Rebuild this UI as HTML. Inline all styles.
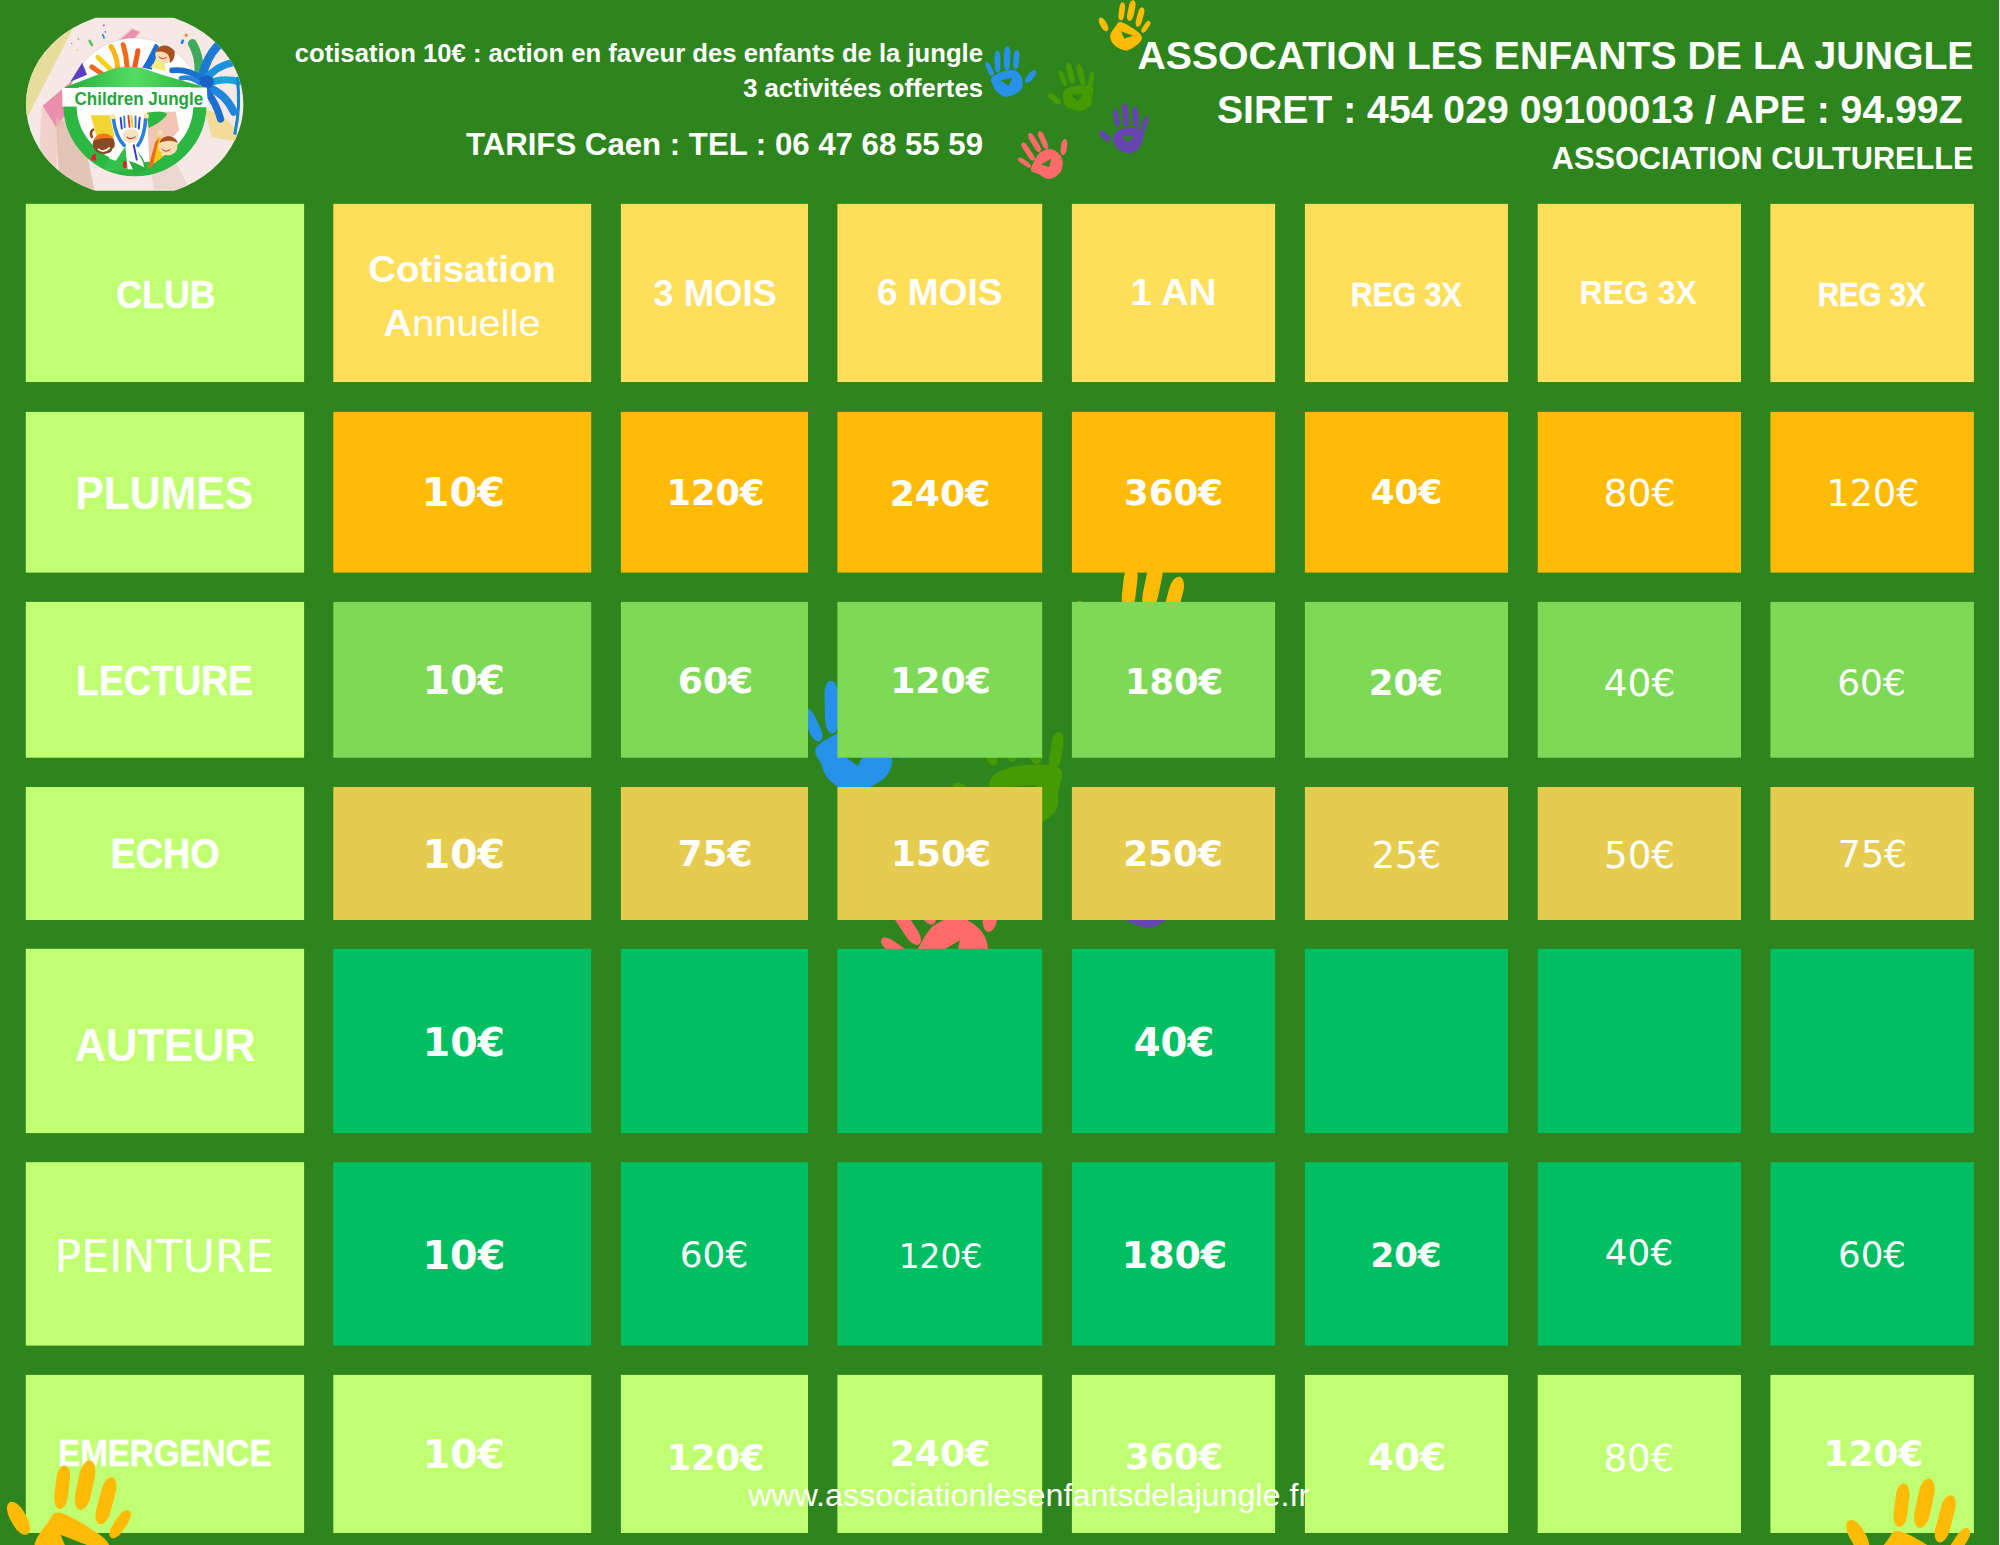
<!DOCTYPE html>
<html lang="fr"><head><meta charset="utf-8"><title>Tarifs Caen - Association Les Enfants de la Jungle</title>
<style>
html,body{margin:0;padding:0}
body{width:2000px;height:1545px;background:#2e851d;position:relative;overflow:hidden;font-family:"Liberation Sans",sans-serif;color:#fff}
.c{position:absolute;display:flex;align-items:center;justify-content:center;text-align:center;white-space:nowrap}
.c span{position:relative;display:block}
.h{position:absolute;white-space:nowrap;font-weight:700;text-align:right;right:27px}
svg{position:absolute;overflow:visible}
</style></head><body>
<svg width="0" height="0" style="left:0;top:0"><defs><g id="cluster"><g id="hand-yellow" fill="#ffbb05" stroke="#ffbb05" stroke-linecap="round"><rect x="1118.9" y="2.3" width="5.7" height="18.3" rx="2.8" ry="5.4" stroke="none" transform="rotate(6.7 1121.7 11.4)"/><rect x="1128.0" y="0.1" width="6.5" height="21.0" rx="3.2" ry="6.2" stroke="none" transform="rotate(11.7 1131.3 10.7)"/><rect x="1137.0" y="6.9" width="6.0" height="20.3" rx="3.0" ry="5.7" stroke="none" transform="rotate(15.0 1140.0 17.0)"/><rect x="1143.5" y="20.0" width="4.9" height="13.6" rx="2.4" ry="4.6" stroke="none" transform="rotate(33.7 1145.9 26.7)"/><rect x="1100.3" y="16.8" width="6.5" height="15.2" rx="3.2" ry="6.2" stroke="none" transform="rotate(-29.0 1103.5 24.4)"/><path stroke="none" fill-rule="evenodd" d="M1115.8 26.1C1117.6 23.8 1117.8 21.5 1121.0 22.1C1124.3 22.8 1132.0 27.5 1135.4 29.9C1138.9 32.2 1141.0 34.1 1141.6 36.3C1142.2 38.5 1141.6 40.7 1139.1 43.1C1136.7 45.4 1130.9 50.1 1126.8 50.4C1122.7 50.8 1117.3 47.7 1114.5 45.3C1111.8 42.8 1110.0 39.1 1110.2 35.9C1110.4 32.7 1114.0 28.4 1115.8 26.1ZM1121.0 31.2L1132.9 35.8L1124.3 38.8Z"/></g><g id="hand-blue" fill="#2692ea" stroke="#2692ea" stroke-linecap="round"><rect x="987.1" y="61.5" width="4.9" height="15.0" rx="2.4" ry="4.6" stroke="none" transform="rotate(-25.0 989.5 68.9)"/><rect x="994.7" y="50.6" width="5.7" height="21.9" rx="2.8" ry="5.4" stroke="none" transform="rotate(-1.3 997.5 61.5)"/><rect x="1004.0" y="46.0" width="6.2" height="24.4" rx="3.1" ry="5.9" stroke="none" transform="rotate(1.2 1007.1 58.2)"/><rect x="1013.4" y="49.9" width="5.7" height="19.3" rx="2.8" ry="5.4" stroke="none" transform="rotate(4.2 1016.2 59.6)"/><rect x="1027.5" y="68.8" width="6.2" height="15.5" rx="3.1" ry="5.9" stroke="none" transform="rotate(39.8 1030.6 76.6)"/><path stroke="none" fill-rule="evenodd" d="M991.1 78.4C992.5 76.2 997.9 73.3 1001.6 71.8C1005.4 70.4 1010.3 69.2 1013.5 69.9C1016.7 70.5 1019.2 73.3 1020.7 75.8C1022.3 78.3 1023.1 82.3 1022.7 85.0C1022.3 87.7 1020.9 90.3 1018.1 92.2C1015.2 94.2 1009.2 97.0 1005.6 96.8C1002.0 96.7 998.5 93.6 996.4 91.6C994.3 89.6 994.0 87.2 993.1 85.0C992.2 82.8 989.7 80.6 991.1 78.4ZM1000.5 80.3L1012.6 77.8L1008.5 86.1Z"/></g><g id="hand-green" fill="#449b03" stroke="#449b03" stroke-linecap="round"><rect x="1060.2" y="70.2" width="4.9" height="16.1" rx="2.4" ry="4.6" stroke="none" transform="rotate(-21.2 1062.6 78.2)"/><rect x="1067.5" y="62.5" width="6.0" height="22.0" rx="3.0" ry="5.7" stroke="none" transform="rotate(-14.4 1070.5 73.5)"/><rect x="1077.9" y="63.7" width="6.0" height="21.9" rx="3.0" ry="5.7" stroke="none" transform="rotate(-13.5 1080.8 74.7)"/><rect x="1088.7" y="71.7" width="4.9" height="16.1" rx="2.4" ry="4.6" stroke="none" transform="rotate(8.8 1091.1 79.8)"/><rect x="1051.3" y="90.8" width="6.0" height="15.8" rx="3.0" ry="5.7" stroke="none" transform="rotate(-52.4 1054.3 98.6)"/><path stroke="none" fill-rule="evenodd" d="M1065.0 89.9C1067.6 87.5 1073.6 86.1 1078.2 85.7C1082.8 85.2 1090.4 85.3 1092.7 87.2C1095.0 89.2 1092.4 94.2 1092.0 97.1C1091.7 100.1 1092.6 102.7 1090.7 105.0C1088.8 107.3 1084.7 110.5 1080.8 110.9C1077.0 111.4 1070.6 109.5 1067.7 107.6C1064.7 105.8 1063.5 102.7 1063.1 99.8C1062.6 96.8 1062.5 92.2 1065.0 89.9ZM1071.1 94.8L1082.8 94.0L1077.8 101.5Z"/></g><g id="hand-purple" fill="#6645b0" stroke="#6645b0" stroke-linecap="round"><rect x="1113.9" y="109.1" width="5.1" height="17.8" rx="2.6" ry="4.9" stroke="none" transform="rotate(-11.3 1116.5 118.0)"/><rect x="1122.4" y="103.3" width="6.0" height="23.6" rx="3.0" ry="5.7" stroke="none" transform="rotate(-6.1 1125.4 115.1)"/><rect x="1132.5" y="106.4" width="6.0" height="22.2" rx="3.0" ry="5.7" stroke="none" transform="rotate(-4.4 1135.5 117.5)"/><rect x="1142.3" y="115.8" width="4.9" height="15.8" rx="2.4" ry="4.6" stroke="none" transform="rotate(17.6 1144.7 123.7)"/><rect x="1101.7" y="128.8" width="6.0" height="14.7" rx="3.0" ry="5.7" stroke="none" transform="rotate(-47.7 1104.6 136.2)"/><path stroke="none" fill-rule="evenodd" d="M1116.2 131.7C1119.0 129.7 1125.4 127.1 1130.0 127.1C1134.6 127.1 1141.7 129.5 1143.8 131.7C1145.9 133.9 1143.5 137.3 1142.5 140.2C1141.5 143.2 1140.2 147.3 1137.9 149.4C1135.6 151.6 1132.2 153.6 1128.7 153.4C1125.2 153.2 1119.5 150.5 1116.8 148.1C1114.2 145.7 1113.0 141.7 1112.9 138.9C1112.8 136.2 1113.3 133.7 1116.2 131.7ZM1122.2 135.9L1133.9 136.7L1128.1 142.5Z"/></g><g id="hand-red" fill="#ff6b69" stroke="#ff6b69" stroke-linecap="round"><rect x="1022.2" y="155.0" width="4.6" height="15.2" rx="2.3" ry="4.4" stroke="none" transform="rotate(-54.5 1024.5 162.6)"/><rect x="1025.4" y="140.9" width="5.4" height="21.2" rx="2.7" ry="5.1" stroke="none" transform="rotate(-33.7 1028.2 151.5)"/><rect x="1031.7" y="131.8" width="5.7" height="21.6" rx="2.8" ry="5.4" stroke="none" transform="rotate(-30.6 1034.6 142.6)"/><rect x="1040.4" y="130.6" width="5.4" height="19.0" rx="2.7" ry="5.1" stroke="none" transform="rotate(-24.2 1043.1 140.1)"/><rect x="1060.9" y="139.0" width="6.0" height="16.3" rx="3.0" ry="5.7" stroke="none" transform="rotate(8.0 1063.9 147.1)"/><path stroke="none" fill-rule="evenodd" d="M1033.0 163.5C1034.5 160.6 1036.8 155.4 1039.6 153.0C1042.5 150.6 1046.9 148.8 1050.2 149.1C1053.4 149.3 1057.3 152.1 1059.4 154.3C1061.5 156.5 1062.5 159.2 1062.7 162.2C1062.8 165.3 1062.3 169.9 1060.0 172.8C1057.7 175.6 1052.5 178.9 1048.8 179.1C1045.2 179.3 1041.3 175.5 1038.3 174.1C1035.4 172.7 1032.0 172.5 1031.1 170.8C1030.2 169.0 1031.6 166.5 1033.0 163.5ZM1041.0 164.5L1051.0 158.7L1049.3 167.0Z"/></g></g></defs></svg>
<svg width="2000" height="1545" style="left:0;top:0" viewBox="0 0 2000 1545"><use href="#cluster"/><use href="#cluster" transform="translate(-1562.5 559.4) scale(2.4)"/></svg>

<div class="h" id="h1" style="right:1017px;top:38.3px;font-size:25.65px;line-height:30px">cotisation 10€ : action en faveur des enfants de la jungle</div>
<div class="h" id="h2" style="right:1017px;top:73px;font-size:25.7px;line-height:30px">3 activitées offertes</div>
<div class="h" id="h3" style="right:1017px;top:128px;font-size:31.2px;line-height:34px">TARIFS Caen : TEL : 06 47 68 55 59</div>
<div class="h" id="h4" style="right:26.5px;top:33.5px;font-size:39.2px;line-height:44px">ASSOCATION LES ENFANTS DE LA JUNGLE</div>
<div class="h" id="h5" style="right:26.5px;top:87.5px;font-size:39.2px;line-height:44px;white-space:pre">SIRET : 454 029 09100013 / APE : 94.99Z </div>
<div class="h" id="h6" style="right:26.5px;top:142px;font-size:30.7px;line-height:34px">ASSOCIATION CULTURELLE</div>

<svg id="logo" width="230" height="185" viewBox="0 0 1921 1545" style="left:20px;top:10px">
<defs><clipPath id="lc"><rect x="0" y="65" width="1921" height="1445"/></clipPath>
<clipPath id="le"><ellipse cx="958" cy="788" rx="908" ry="775"/></clipPath>
<linearGradient id="hill" x1="0" x2="1"><stop offset="0" stop-color="#27ae3c"/><stop offset=".5" stop-color="#55dd62"/><stop offset="1" stop-color="#27ae3c"/></linearGradient>
<clipPath id="ringc"><rect x="300" y="640" width="1330" height="800"/></clipPath></defs>
<g clip-path="url(#lc)"><g clip-path="url(#le)">
<rect width="1921" height="1545" fill="#f6e8e4"/>
<path d="M0 0H520L60 900H0Z" fill="#e6dc9c"/>
<path d="M930 150L1010 180L330 1000L290 1500L150 1500L180 820Z" fill="#f0c8c0" opacity=".7"/>
<path d="M940 160L1000 185L420 820L300 980L190 800Z" fill="#ea8fae"/>
<path d="M300 900L520 1000L620 1500L330 1500Z" fill="#dcb9a8" opacity=".75"/>
<path d="M1540 830C1700 860 1800 950 1830 1100L1600 1060Z" fill="#f3dc9a"/>
<path d="M1080 1250L1250 1180L1420 1500L1120 1500Z" fill="#ead7cf"/>
<circle cx="960" cy="790" r="556" fill="#fff" stroke="#b9b0ae" stroke-width="3"/>
<path d="M420 600L520 440L560 540Z" fill="#5a3fc0"/>
<g stroke-linecap="round" fill="none" stroke-width="42">
<path d="M600 475L680 530" stroke="#f26a1b"/><path d="M650 395L760 500" stroke="#f7d21a"/>
<path d="M760 305Q810 380 815 480" stroke="#f9b516"/><path d="M862 290Q890 380 895 480" stroke="#f06a1c"/><path d="M985 340L958 480" stroke="#ee5a1c"/></g>
<path d="M1020 480C1060 430 1090 350 1130 280L1160 300C1150 380 1120 440 1100 500Z" fill="#1b6fd0"/>
<path d="M1090 480L1140 410L1200 430L1220 510Z" fill="#f4ec7a"/>
<ellipse cx="1205" cy="375" rx="75" ry="72" fill="#f6dcae"/>
<path d="M1135 350C1150 290 1230 270 1290 340C1300 400 1270 440 1250 440C1260 380 1220 330 1135 350Z" fill="#a8501f"/>
<path d="M1160 390Q1190 420 1225 395" stroke="#d8262c" stroke-width="8" fill="none"/>
<g stroke-linecap="round" fill="none">
<path d="M1440 280Q1500 380 1495 520" stroke="#3daa5c" stroke-width="75"/>
<path d="M1520 560Q1560 390 1650 300" stroke="#1b7ad6" stroke-width="72"/>
<path d="M1545 585Q1640 465 1775 440" stroke="#1d90dc" stroke-width="62"/>
<path d="M1565 615Q1700 560 1830 600" stroke="#19a3da" stroke-width="58"/>
<path d="M1575 650Q1715 700 1785 850" stroke="#1f86d8" stroke-width="66"/>
<path d="M1560 680Q1640 780 1675 910" stroke="#1b6fd0" stroke-width="60"/>
<path d="M1500 565Q1400 490 1270 505" stroke="#1b6fd0" stroke-width="48"/>
<path d="M1500 610Q1420 550 1345 570" stroke="#2a83dc" stroke-width="40"/>
<path d="M1815 570Q1845 800 1795 1030" stroke="#1b86d0" stroke-width="26"/>
</g>
<ellipse cx="1560" cy="600" rx="60" ry="55" fill="#1a62c6"/>
<g clip-path="url(#ringc)"><circle cx="960" cy="790" r="543" fill="none" stroke="#2cb742" stroke-width="110"/></g>
<path d="M380 642L800 482Q900 470 1010 482L1200 545L1540 642Z" fill="url(#hill)"/>
<path d="M1060 850L1300 850L1330 1000L1230 1120L1080 1260Z" fill="#f1c6b2"/>
<path d="M1060 860C1120 850 1200 840 1230 870C1180 940 1120 960 1075 985Z" fill="#2cb742"/>
<path d="M590 880L750 880L790 1060L640 1060Z" fill="#f2d531"/>
<ellipse cx="700" cy="1120" rx="92" ry="85" fill="#8a4a26"/>
<path d="M615 1090C640 1020 740 1010 790 1080C730 1060 670 1070 615 1090Z" fill="#f07a1a"/>
<path d="M650 1160Q700 1200 750 1150" stroke="#fff" stroke-width="14" fill="none"/>
<path d="M600 1060Q580 1020 610 1000" stroke="#8a4a26" stroke-width="22" fill="none" stroke-linecap="round"/>
<path d="M770 1160L830 1110L900 1150L1000 1140L1040 1330L720 1330Z" fill="#fff"/>
<g stroke-linecap="round" fill="none" stroke="#2a7fdc" stroke-width="30"><path d="M780 910Q800 1060 870 1130"/><path d="M1050 905Q1040 1060 985 1130"/></g>
<ellipse cx="925" cy="1050" rx="70" ry="58" fill="#f5e3c0"/>
<g stroke-linecap="round" stroke-width="16" fill="none"><path d="M840 900L850 990" stroke="#3a36c8"/><path d="M870 890L875 980" stroke="#2a7fdc"/><path d="M905 885L915 975" stroke="#e8382c"/><path d="M930 885L940 975" stroke="#f7c81a"/><path d="M965 890L965 980" stroke="#2a7fdc"/><path d="M1000 900L992 990" stroke="#3a36c8"/></g>
<path d="M890 1060Q925 1090 965 1058" stroke="#d8262c" stroke-width="9" fill="none"/>
<circle cx="775" cy="890" r="22" fill="#f5e3a0"/><circle cx="1055" cy="885" r="22" fill="#f5e3a0"/>
<path d="M950 1130L975 1250" stroke="#3a36c8" stroke-width="16" stroke-linecap="round"/>
<path d="M1070 1320L1150 1060L1200 1080L1190 1230Z" fill="#f7c81a"/><path d="M1070 1320L1130 1100L1160 1070L1110 1300Z" fill="#f06a1c"/>
<ellipse cx="1235" cy="1140" rx="80" ry="75" fill="#f6dcae"/>
<path d="M1165 1110C1180 1040 1290 1030 1320 1110C1260 1080 1210 1090 1165 1110Z" fill="#a8501f"/>
<path d="M1185 1160Q1215 1195 1255 1165" stroke="#d8262c" stroke-width="8" fill="none"/>
<circle cx="1170" cy="1025" r="22" fill="#f5e3a0"/>
<path d="M700 1330L740 1240L800 1260L880 1140L900 1340Z" fill="#35c04a"/>
<path d="M910 1260Q1000 1290 1060 1330L980 1180Q1040 1240 1060 1330L960 1370Z" fill="#27ae3c"/>
<path d="M590 1255Q600 1195 632 1200L636 1260Z" fill="#e01f26"/><ellipse cx="876" cy="1290" rx="16" ry="32" fill="#e01f26"/>
<path d="M352 652L1560 648L1570 812L355 805Z" fill="#fff"/>
<text x="455" y="795" font-family="'Liberation Sans', 'DejaVu Sans', sans-serif" font-weight="700" font-size="150" fill="#1fa63a" textLength="1075" lengthAdjust="spacingAndGlyphs">Children Jungle</text>
<g fill="#3a7bd6"><rect x="690" y="200" width="14" height="40" transform="rotate(-25 697 220)"/><circle cx="700" cy="128" r="8" fill="#c23ca0"/><circle cx="713" cy="182" r="7"/></g>
<rect x="580" y="245" width="22" height="60" rx="10" fill="#5cc45a" transform="rotate(-30 591 275)"/>
<circle cx="1388" cy="210" r="13" fill="#f08a1c"/><rect x="1345" y="245" width="22" height="40" rx="10" fill="#2a7fdc" transform="rotate(25 1356 265)"/>
<circle cx="488" cy="242" r="7" fill="#5cc45a"/><circle cx="480" cy="335" r="6" fill="#f0b030"/><circle cx="432" cy="278" r="5" fill="#c23ca0"/>
</g></g></svg>

<svg id="grid" width="2000" height="1545" viewBox="0 0 2000 1545" style="left:0;top:0">
<rect x="25.8" y="203.85" width="278.3" height="178.2" fill="#c1ff72"/><rect x="333.3" y="203.85" width="257.9" height="178.2" fill="#ffde59"/><rect x="620.9" y="203.85" width="187.1" height="178.2" fill="#ffde59"/><rect x="837.4" y="203.85" width="204.8" height="178.2" fill="#ffde59"/><rect x="1071.9" y="203.85" width="203.2" height="178.2" fill="#ffde59"/><rect x="1304.9" y="203.85" width="203.1" height="178.2" fill="#ffde59"/><rect x="1537.7" y="203.85" width="203.3" height="178.2" fill="#ffde59"/><rect x="1770.4" y="203.85" width="203.5" height="178.2" fill="#ffde59"/>
<rect x="25.8" y="411.9" width="278.3" height="160.7" fill="#c1ff72"/><rect x="333.3" y="411.9" width="257.9" height="160.7" fill="#ffbb05"/><rect x="620.9" y="411.9" width="187.1" height="160.7" fill="#ffbb05"/><rect x="837.4" y="411.9" width="204.8" height="160.7" fill="#ffbb05"/><rect x="1071.9" y="411.9" width="203.2" height="160.7" fill="#ffbb05"/><rect x="1304.9" y="411.9" width="203.1" height="160.7" fill="#ffbb05"/><rect x="1537.7" y="411.9" width="203.3" height="160.7" fill="#ffbb05"/><rect x="1770.4" y="411.9" width="203.5" height="160.7" fill="#ffbb05"/>
<rect x="25.8" y="601.9" width="278.3" height="155.8" fill="#c1ff72"/><rect x="333.3" y="601.9" width="257.9" height="155.8" fill="#7ed957"/><rect x="620.9" y="601.9" width="187.1" height="155.8" fill="#7ed957"/><rect x="837.4" y="601.9" width="204.8" height="155.8" fill="#7ed957"/><rect x="1071.9" y="601.9" width="203.2" height="155.8" fill="#7ed957"/><rect x="1304.9" y="601.9" width="203.1" height="155.8" fill="#7ed957"/><rect x="1537.7" y="601.9" width="203.3" height="155.8" fill="#7ed957"/><rect x="1770.4" y="601.9" width="203.5" height="155.8" fill="#7ed957"/>
<rect x="25.8" y="787.0" width="278.3" height="133.0" fill="#c1ff72"/><rect x="333.3" y="787.0" width="257.9" height="133.0" fill="#e6cc4e"/><rect x="620.9" y="787.0" width="187.1" height="133.0" fill="#e6cc4e"/><rect x="837.4" y="787.0" width="204.8" height="133.0" fill="#e6cc4e"/><rect x="1071.9" y="787.0" width="203.2" height="133.0" fill="#e6cc4e"/><rect x="1304.9" y="787.0" width="203.1" height="133.0" fill="#e6cc4e"/><rect x="1537.7" y="787.0" width="203.3" height="133.0" fill="#e6cc4e"/><rect x="1770.4" y="787.0" width="203.5" height="133.0" fill="#e6cc4e"/>
<rect x="25.8" y="948.8" width="278.3" height="184.3" fill="#c1ff72"/><rect x="333.3" y="948.8" width="257.9" height="184.3" fill="#00bf63"/><rect x="620.9" y="948.8" width="187.1" height="184.3" fill="#00bf63"/><rect x="837.4" y="948.8" width="204.8" height="184.3" fill="#00bf63"/><rect x="1071.9" y="948.8" width="203.2" height="184.3" fill="#00bf63"/><rect x="1304.9" y="948.8" width="203.1" height="184.3" fill="#00bf63"/><rect x="1537.7" y="948.8" width="203.3" height="184.3" fill="#00bf63"/><rect x="1770.4" y="948.8" width="203.5" height="184.3" fill="#00bf63"/>
<rect x="25.8" y="1162.2" width="278.3" height="183.4" fill="#c1ff72"/><rect x="333.3" y="1162.2" width="257.9" height="183.4" fill="#00bf63"/><rect x="620.9" y="1162.2" width="187.1" height="183.4" fill="#00bf63"/><rect x="837.4" y="1162.2" width="204.8" height="183.4" fill="#00bf63"/><rect x="1071.9" y="1162.2" width="203.2" height="183.4" fill="#00bf63"/><rect x="1304.9" y="1162.2" width="203.1" height="183.4" fill="#00bf63"/><rect x="1537.7" y="1162.2" width="203.3" height="183.4" fill="#00bf63"/><rect x="1770.4" y="1162.2" width="203.5" height="183.4" fill="#00bf63"/>
<rect x="25.8" y="1374.9" width="278.3" height="158.1" fill="#c1ff72"/><rect x="333.3" y="1374.9" width="257.9" height="158.1" fill="#c1ff72"/><rect x="620.9" y="1374.9" width="187.1" height="158.1" fill="#c1ff72"/><rect x="837.4" y="1374.9" width="204.8" height="158.1" fill="#c1ff72"/><rect x="1071.9" y="1374.9" width="203.2" height="158.1" fill="#c1ff72"/><rect x="1304.9" y="1374.9" width="203.1" height="158.1" fill="#c1ff72"/><rect x="1537.7" y="1374.9" width="203.3" height="158.1" fill="#c1ff72"/><rect x="1770.4" y="1374.9" width="203.5" height="158.1" fill="#c1ff72"/>
</svg>
<div class="c" id="c0_0" style="left:26px;top:204px;width:278px;height:178px"><span style="font:700 38.8px/1.2 'Liberation Sans', sans-serif;left:0.4px;top:2.0px;transform:scaleX(0.919);-webkit-text-stroke:0.45px #fff">CLUB</span></div>
<div class="c" id="c0_1" style="left:334px;top:204px;width:257px;height:178px"><div style="position:absolute;left:0;right:0;top:44.3px;font:700 36.5px/1.2 'Liberation Sans', sans-serif;transform:translateX(-0.5px) scaleX(1.051)">Cotisation</div><div style="position:absolute;left:0;right:0;top:98.3px;font:400 36.5px/1.2 'Liberation Sans', sans-serif;transform:translateX(-0.5px) scaleX(1.092)"><b>A</b>nnuelle</div></div>
<div class="c" id="c0_2" style="left:621px;top:204px;width:187px;height:178px"><span style="font:700 37.8px/1.2 'Liberation Sans', sans-serif;left:0.5px;top:0.9px;transform:scaleX(0.965)">3 MOIS</span></div>
<div class="c" id="c0_3" style="left:838px;top:204px;width:204px;height:178px"><span style="font:700 37.0px/1.2 'Liberation Sans', sans-serif;left:0.0px;top:0.0px;transform:scaleX(1.001)">6 MOIS</span></div>
<div class="c" id="c0_4" style="left:1072px;top:204px;width:203px;height:178px"><span style="font:700 37.0px/1.2 'Liberation Sans', sans-serif;left:-0.5px;top:0.0px;transform:scaleX(1.035)">1 AN</span></div>
<div class="c" id="c0_5" style="left:1305px;top:204px;width:203px;height:178px"><span style="font:700 33.9px/1.2 'Liberation Sans', sans-serif;left:0.0px;top:1.0px;transform:scaleX(0.892);-webkit-text-stroke:0.45px #fff">REG 3X</span></div>
<div class="c" id="c0_6" style="left:1538px;top:204px;width:203px;height:178px"><span style="font:700 33.9px/1.2 'Liberation Sans', sans-serif;left:-1.0px;top:-1.0px;transform:scaleX(0.942)">REG 3X</span></div>
<div class="c" id="c0_7" style="left:1771px;top:204px;width:203px;height:178px"><span style="font:700 32.5px/1.2 'Liberation Sans', sans-serif;left:-0.5px;top:2.6px;transform:scaleX(0.905);-webkit-text-stroke:0.45px #fff">REG 3X</span></div>
<div class="c" id="c1_0" style="left:26px;top:412px;width:278px;height:160px"><span style="font:700 45.7px/1.2 'Liberation Sans', sans-serif;left:-0.5px;top:2.9px;transform:scaleX(0.934)">PLUMES</span></div>
<div class="c" id="c1_1" style="left:334px;top:412px;width:257px;height:160px"><span style="font:700 39.8px/1.2 'DejaVu Sans', sans-serif;left:0.9px;top:0.4px">10€</span></div>
<div class="c" id="c1_2" style="left:621px;top:412px;width:187px;height:160px"><span style="font:700 35.3px/1.2 'DejaVu Sans', sans-serif;left:1.0px;top:1.4px">120€</span></div>
<div class="c" id="c1_3" style="left:838px;top:412px;width:204px;height:160px"><span style="font:700 36.2px/1.2 'DejaVu Sans', sans-serif;left:-0.0px;top:1.4px">240€</span></div>
<div class="c" id="c1_4" style="left:1072px;top:412px;width:203px;height:160px"><span style="font:700 35.5px/1.2 'DejaVu Sans', sans-serif;left:0.0px;top:1.4px">360€</span></div>
<div class="c" id="c1_5" style="left:1305px;top:412px;width:203px;height:160px"><span style="font:700 34.3px/1.2 'DejaVu Sans', sans-serif;left:0.0px;top:0.5px">40€</span></div>
<div class="c" id="c1_6" style="left:1538px;top:412px;width:203px;height:160px"><span style="font:400 37.8px/1.2 'DejaVu Sans', sans-serif;left:0.0px;top:1.4px">80€</span></div>
<div class="c" id="c1_7" style="left:1771px;top:412px;width:203px;height:160px"><span style="font:400 36.5px/1.2 'DejaVu Sans', sans-serif;left:0.5px;top:2.4px">120€</span></div>
<div class="c" id="c2_0" style="left:26px;top:602px;width:278px;height:155px"><span style="font:700 43.0px/1.2 'Liberation Sans', sans-serif;left:-0.5px;top:1.5px;transform:scaleX(0.872);-webkit-text-stroke:0.45px #fff">LECTURE</span></div>
<div class="c" id="c2_1" style="left:334px;top:602px;width:257px;height:155px"><span style="font:700 39.4px/1.2 'DejaVu Sans', sans-serif;left:1.4px;top:1.5px">10€</span></div>
<div class="c" id="c2_2" style="left:621px;top:602px;width:187px;height:155px"><span style="font:700 36.1px/1.2 'DejaVu Sans', sans-serif;left:1.0px;top:2.5px">60€</span></div>
<div class="c" id="c2_3" style="left:838px;top:602px;width:204px;height:155px"><span style="font:700 36.2px/1.2 'DejaVu Sans', sans-serif;left:0.5px;top:1.5px">120€</span></div>
<div class="c" id="c2_4" style="left:1072px;top:602px;width:203px;height:155px"><span style="font:700 35.3px/1.2 'DejaVu Sans', sans-serif;left:0.5px;top:2.5px">180€</span></div>
<div class="c" id="c2_5" style="left:1305px;top:602px;width:203px;height:155px"><span style="font:700 35.6px/1.2 'DejaVu Sans', sans-serif;left:-0.5px;top:3.5px">20€</span></div>
<div class="c" id="c2_6" style="left:1538px;top:602px;width:203px;height:155px"><span style="font:400 37.5px/1.2 'DejaVu Sans', sans-serif;left:-0.0px;top:3.5px">40€</span></div>
<div class="c" id="c2_7" style="left:1771px;top:602px;width:203px;height:155px"><span style="font:400 36.0px/1.2 'DejaVu Sans', sans-serif;left:-1.0px;top:3.5px">60€</span></div>
<div class="c" id="c3_0" style="left:26px;top:787px;width:278px;height:132px"><span style="font:700 41.6px/1.2 'Liberation Sans', sans-serif;left:-0.4px;top:1.0px;transform:scaleX(0.908);-webkit-text-stroke:0.45px #fff">ECHO</span></div>
<div class="c" id="c3_1" style="left:334px;top:787px;width:257px;height:132px"><span style="font:700 39.4px/1.2 'DejaVu Sans', sans-serif;left:1.4px;top:1.5px">10€</span></div>
<div class="c" id="c3_2" style="left:621px;top:787px;width:187px;height:132px"><span style="font:700 35.7px/1.2 'DejaVu Sans', sans-serif;left:0.5px;top:1.5px">75€</span></div>
<div class="c" id="c3_3" style="left:838px;top:787px;width:204px;height:132px"><span style="font:700 36.0px/1.2 'DejaVu Sans', sans-serif;left:1.0px;top:0.5px">150€</span></div>
<div class="c" id="c3_4" style="left:1072px;top:787px;width:203px;height:132px"><span style="font:700 35.8px/1.2 'DejaVu Sans', sans-serif;left:-0.5px;top:1.5px">250€</span></div>
<div class="c" id="c3_5" style="left:1305px;top:787px;width:203px;height:132px"><span style="font:400 36.4px/1.2 'DejaVu Sans', sans-serif;left:-0.0px;top:3.0px">25€</span></div>
<div class="c" id="c3_6" style="left:1538px;top:787px;width:203px;height:132px"><span style="font:400 37.2px/1.2 'DejaVu Sans', sans-serif;left:0.0px;top:2.0px">50€</span></div>
<div class="c" id="c3_7" style="left:1771px;top:787px;width:203px;height:132px"><span style="font:400 36.4px/1.2 'DejaVu Sans', sans-serif;left:0.0px;top:2.0px">75€</span></div>
<div class="c" id="c4_0" style="left:26px;top:949px;width:278px;height:184px"><span style="font:700 45.7px/1.2 'Liberation Sans', sans-serif;left:0.0px;top:5.0px;transform:scaleX(0.95)">AUTEUR</span></div>
<div class="c" id="c4_1" style="left:334px;top:949px;width:257px;height:184px"><span style="font:700 39.4px/1.2 'DejaVu Sans', sans-serif;left:1.4px;top:1.5px">10€</span></div>
<div class="c" id="c4_2" style="left:621px;top:949px;width:187px;height:184px"></div>
<div class="c" id="c4_3" style="left:838px;top:949px;width:204px;height:184px"></div>
<div class="c" id="c4_4" style="left:1072px;top:949px;width:203px;height:184px"><span style="font:700 38.5px/1.2 'DejaVu Sans', sans-serif;left:0.5px;top:2.0px">40€</span></div>
<div class="c" id="c4_5" style="left:1305px;top:949px;width:203px;height:184px"></div>
<div class="c" id="c4_6" style="left:1538px;top:949px;width:203px;height:184px"></div>
<div class="c" id="c4_7" style="left:1771px;top:949px;width:203px;height:184px"></div>
<div class="c" id="c5_0" style="left:26px;top:1162px;width:278px;height:183px"><span style="font:400 44.3px/1.2 'DejaVu Sans', sans-serif;left:-0.9px;top:3.2px">PEINTURE</span></div>
<div class="c" id="c5_1" style="left:334px;top:1162px;width:257px;height:183px"><span style="font:700 39.6px/1.2 'DejaVu Sans', sans-serif;left:1.4px;top:2.0px">10€</span></div>
<div class="c" id="c5_2" style="left:621px;top:1162px;width:187px;height:183px"><span style="font:400 35.8px/1.2 'DejaVu Sans', sans-serif;left:-0.5px;top:2.0px">60€</span></div>
<div class="c" id="c5_3" style="left:838px;top:1162px;width:204px;height:183px"><span style="font:400 32.9px/1.2 'DejaVu Sans', sans-serif;left:0.5px;top:3.0px">120€</span></div>
<div class="c" id="c5_4" style="left:1072px;top:1162px;width:203px;height:183px"><span style="font:700 37.9px/1.2 'DejaVu Sans', sans-serif;left:1.0px;top:2.0px">180€</span></div>
<div class="c" id="c5_5" style="left:1305px;top:1162px;width:203px;height:183px"><span style="font:700 34.0px/1.2 'DejaVu Sans', sans-serif;left:-0.5px;top:2.0px">20€</span></div>
<div class="c" id="c5_6" style="left:1538px;top:1162px;width:203px;height:183px"><span style="font:400 35.8px/1.2 'DejaVu Sans', sans-serif;left:-0.5px;top:0.0px">40€</span></div>
<div class="c" id="c5_7" style="left:1771px;top:1162px;width:203px;height:183px"><span style="font:400 35.6px/1.2 'DejaVu Sans', sans-serif;left:-0.5px;top:2.0px">60€</span></div>
<div class="c" id="c6_0" style="left:26px;top:1375px;width:278px;height:157px"><span style="font:700 37.8px/1.2 'Liberation Sans', sans-serif;left:-0.5px;top:0.0px;transform:scaleX(0.876);-webkit-text-stroke:0.45px #fff">EMERGENCE</span></div>
<div class="c" id="c6_1" style="left:334px;top:1375px;width:257px;height:157px"><span style="font:700 39.4px/1.2 'DejaVu Sans', sans-serif;left:1.4px;top:1.5px">10€</span></div>
<div class="c" id="c6_2" style="left:621px;top:1375px;width:187px;height:157px"><span style="font:700 35.3px/1.2 'DejaVu Sans', sans-serif;left:1.0px;top:4.5px">120€</span></div>
<div class="c" id="c6_3" style="left:838px;top:1375px;width:204px;height:157px"><span style="font:700 36.2px/1.2 'DejaVu Sans', sans-serif;left:-0.0px;top:0.5px">240€</span></div>
<div class="c" id="c6_4" style="left:1072px;top:1375px;width:203px;height:157px"><span style="font:700 35.3px/1.2 'DejaVu Sans', sans-serif;left:0.5px;top:3.5px">360€</span></div>
<div class="c" id="c6_5" style="left:1305px;top:1375px;width:203px;height:157px"><span style="font:700 37.6px/1.2 'DejaVu Sans', sans-serif;left:0.5px;top:4.5px">40€</span></div>
<div class="c" id="c6_6" style="left:1538px;top:1375px;width:203px;height:157px"><span style="font:400 37.3px/1.2 'DejaVu Sans', sans-serif;left:-0.5px;top:4.5px">80€</span></div>
<div class="c" id="c6_7" style="left:1771px;top:1375px;width:203px;height:157px"><span style="font:700 36.0px/1.2 'DejaVu Sans', sans-serif;left:1.0px;top:0.5px">120€</span></div>
<svg width="2000" height="1545" style="left:0;top:0;pointer-events:none" viewBox="0 0 2000 1545"><use href="#hand-yellow" transform="translate(-2630 1459.8) scale(2.4)"/><use href="#hand-yellow" transform="translate(-790.7 1477.9) scale(2.4)"/></svg>
<div id="www" style="position:absolute;left:748px;top:1474.9px;width:561.5px;overflow:hidden;font:400 32.25px/40px 'Liberation Sans',sans-serif;white-space:nowrap">www.associationlesenfantsdelajungle.fr</div>
<div id="edge" style="position:absolute;left:1999px;top:0;width:1px;height:1545px;background:#f4f8f2"></div>

</body></html>
